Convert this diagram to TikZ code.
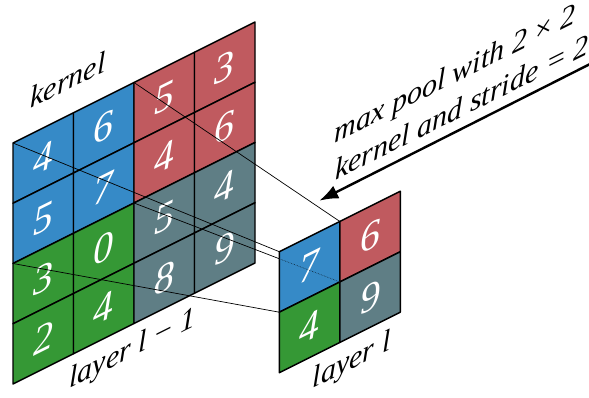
\documentclass[tikz,border=0pt]{standalone}
\usepackage{fontspec}
\setmainfont{Liberation Serif}
\usetikzlibrary{arrows.meta}
\definecolor{cblue}{RGB}{54,138,199}
\definecolor{cred}{RGB}{192,90,95}
\definecolor{cgreen}{RGB}{53,152,53}
\definecolor{cgray}{RGB}{95,126,133}
\newcommand{\opsp}{\hspace{0.22em}}
\begin{document}
\begin{tikzpicture}[x=1pt,y=1pt,line join=round]
\useasboundingbox (0,0) rectangle (589,397);
\tikzset{
  cellbox/.style={draw=black,line width=1.4pt},
  digit/.style={text=white,font=\fontsize{40}{44}\selectfont\itshape,yslant=0.5,inner sep=0pt},
  lbl/.style={font=\fontsize{30}{35}\selectfont\itshape,yslant=0.5,inner sep=0pt,anchor=base},
  link/.style={line width=0.7pt},
}
% ---------- left grid (layer l-1)
\begin{scope}[shift={(13,13)},x={(60.5pt,30.25pt)},y={(0pt,60.25pt)}]
  \foreach \i/\j/\d/\c in {0/3/4/cblue,1/3/6/cblue,2/3/5/cred,3/3/3/cred,
                           0/2/5/cblue,1/2/7/cblue,2/2/4/cred,3/2/6/cred,
                           0/1/3/cgreen,1/1/0/cgreen,2/1/5/cgray,3/1/4/cgray,
                           0/0/2/cgreen,1/0/4/cgreen,2/0/8/cgray,3/0/9/cgray}{
    \filldraw[cellbox,fill=\c] (\i,\j) -- ++(1,0) -- ++(0,1) -- ++(-1,0) -- cycle;
    \node[digit] (L-\i-\j) at (\i+0.5,\j+0.5) {\d};
  }
  \coordinate (Ltl) at (0,4);
  \coordinate (Ltm) at (2,4);
  \coordinate (Lml) at (0,2);
  \coordinate (Lc)  at (2,2);
\end{scope}
% ---------- right grid (layer l)
\begin{scope}[shift={(279.3,24.3)},x={(60.5pt,30.25pt)},y={(0pt,60.5pt)}]
  \coordinate (Rtl) at (0,2);
  \coordinate (Rtm) at (1,2);
  \coordinate (Rml) at (0,1);
  \coordinate (Rc)  at (1,1);
\end{scope}
% links
\draw[link] (Ltl) -- (Rtl);
\draw[link] (Ltm) -- (Rtm);
\draw[link] (Lml) -- (Rml);
\draw[link] (Lc) -- (Rc);
\begin{scope}[shift={(279.3,24.3)},x={(60.5pt,30.25pt)},y={(0pt,60.5pt)}]
  \foreach \i/\j/\d/\c in {0/1/7/cblue,1/1/6/cred,0/0/4/cgreen,1/0/9/cgray}{
    \filldraw[cellbox,fill=\c] (\i,\j) -- ++(1,0) -- ++(0,1) -- ++(-1,0) -- cycle;
    \node[digit] (R-\i-\j) at (\i+0.5,\j+0.5) {\d};
  }
\end{scope}
\coordinate (Hid) at (intersection of Lc--Rc and Rtl--Rml);
\draw[line width=0.6pt,densely dotted,black!70!cblue] (Hid) -- (Rc);
% labels
\node[lbl] (kern) at (68,307) {kernel};
\node[lbl] (lay1) at (132.5,40) {layer l\opsp−\opsp1};
\node[lbl] (lay2) at (351.7,28) {layer l};
\node[lbl] (mp1) at (455,314) {max pool with 2\opsp×\opsp2};
\node[lbl] (mp2) at (462,280) {kernel and stride = 2};
% arrow
\coordinate (As) at (596,336);
\coordinate (Ae) at (319.3,196.3);
\draw[line width=2.4pt,-{Latex[length=19pt,width=14pt]}] (As) -- (Ae);
\end{tikzpicture}
\end{document}
